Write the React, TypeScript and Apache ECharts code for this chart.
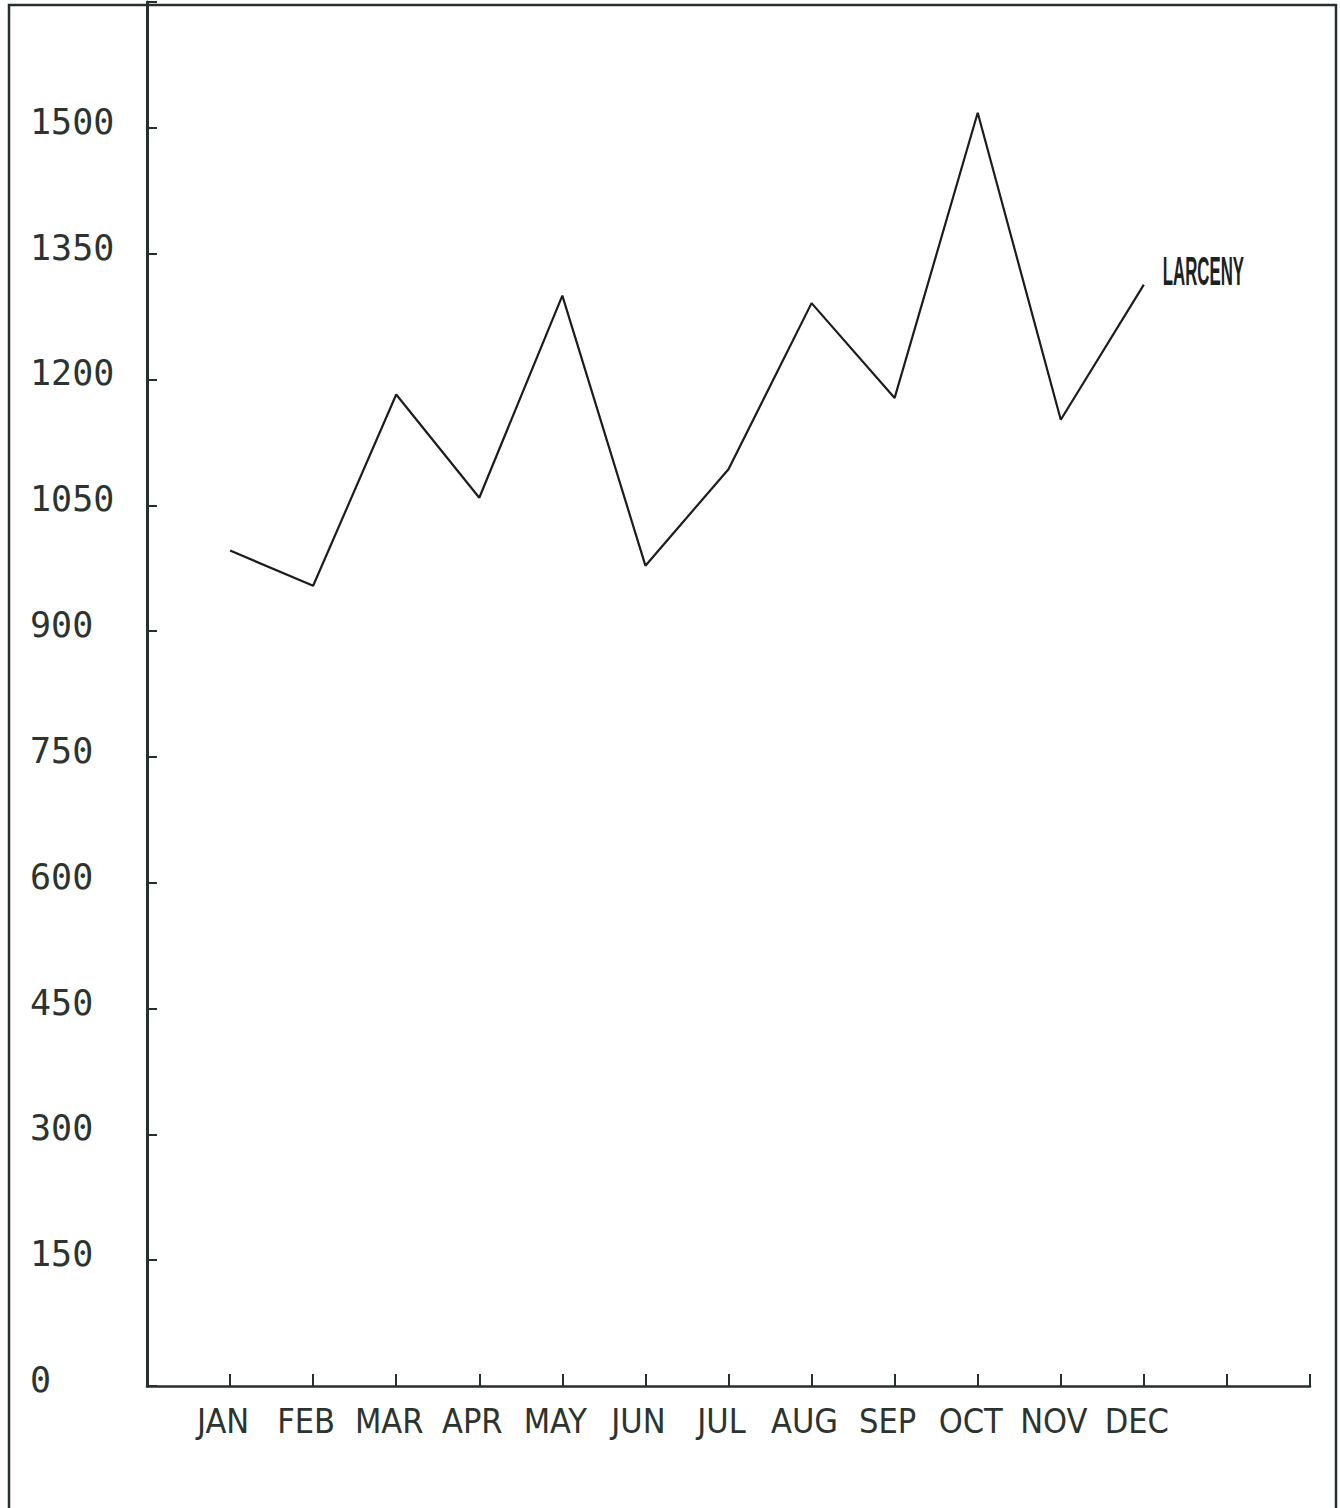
import React, { useEffect, useRef } from "react";
import * as echarts from "echarts";

const months = ["JAN", "FEB", "MAR", "APR", "MAY", "JUN", "JUL", "AUG", "SEP", "OCT", "NOV", "DEC"];
const monthPositions = [1, 2, 3, 4, 5, 6, 7, 8, 9, 10, 11, 12];
const larceny = [996, 954, 1182, 1059, 1300, 978, 1093, 1291, 1178, 1518, 1152, 1313];
const seriesName = "LARCENY";
const yTickMax = 1500;

const ink = "#26302b";

export default function App() {
  const ref = useRef<HTMLDivElement>(null);
  useEffect(() => {
    document.body.style.margin = "0";
    const chart = echarts.init(ref.current!, null, { renderer: "svg" });
    const data = monthPositions.map((x, i) => [x, larceny[i]]);
    chart.setOption({
      animation: false,
      backgroundColor: "#ffffff",
      grid: { left: 147, right: 30, top: 2, bottom: 122 },
      xAxis: {
        type: "value",
        min: 0,
        max: 14,
        interval: 1,
        splitLine: { show: false },
        axisLine: { show: true, lineStyle: { color: ink, width: 2.5 } },
        axisTick: { show: true, inside: true, length: 12, lineStyle: { color: ink, width: 2 } },
        axisLabel: {
          show: true,
          margin: 18,
          color: "#2c3430",
          fontFamily: "'Liberation Sans Narrow', 'DejaVu Sans Condensed', 'Roboto', sans-serif",
          fontSize: 34,
          padding: [0, 14, 0, 0],
          formatter: (v: number) => (v >= 1 && v <= 12 ? months[v - 1] : ""),
        },
      },
      yAxis: {
        type: "value",
        min: 0,
        max: 1650,
        interval: 150,
        splitLine: { show: false },
        axisLine: { show: true, lineStyle: { color: ink, width: 3 } },
        axisTick: { show: true, inside: true, length: 10, lineStyle: { color: ink, width: 2 } },
        axisLabel: {
          show: true,
          align: "left",
          verticalAlign: "bottom",
          lineHeight: 12,
          margin: 117,
          color: "#2c3430",
          fontFamily: "'DejaVu Sans Mono', 'Liberation Mono', monospace",
          fontSize: 35,
          formatter: (v: number) => (v <= yTickMax ? String(v) : ""),
        },
      },
      series: [
        {
          type: "line",
          name: seriesName,
          data,
          showSymbol: false,
          symbol: "none",
          lineStyle: { color: "#1c1c1c", width: 2.2 },
        },
      ],
      graphic: [
        {
          id: "frame",
          type: "rect",
          shape: { x: 9, y: 5, width: 1327, height: 1520 },
          style: { fill: "none", stroke: ink, lineWidth: 2.5 },
          silent: true,
        },
      ],
    });
    const last = data[data.length - 1];
    const p = chart.convertToPixel({ seriesIndex: 0 }, last) as number[];
    chart.setOption({
      graphic: [
        {
          id: "frame",
          type: "rect",
          shape: { x: 9, y: 5, width: 1327, height: 1520 },
          style: { fill: "none", stroke: ink, lineWidth: 2.5 },
          silent: true,
        },
        {
          id: "seriesLabel",
          type: "text",
          x: p[0] + 19,
          y: p[1] - 14,
          scaleX: 0.42,
          silent: true,
          style: {
            text: seriesName,
            fill: "#1c221e",
            font: "bold 40px 'Liberation Sans', Arial, sans-serif",
            align: "left",
            verticalAlign: "middle",
          },
        },
      ],
    });
    return () => chart.dispose();
  }, []);
  return <div ref={ref} style={{ width: 1340, height: 1508 }} />;
}
